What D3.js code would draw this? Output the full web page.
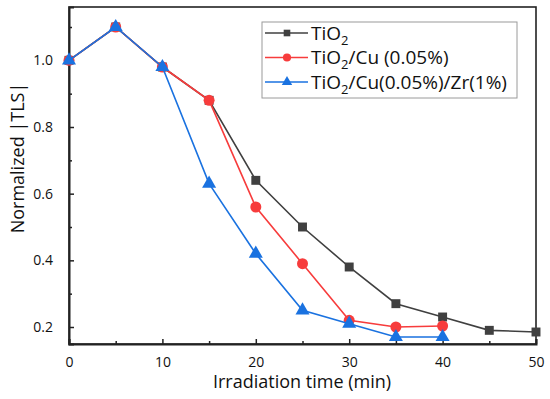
<!DOCTYPE html>
<html>
<head>
<meta charset="utf-8">
<script src="https://cdn.jsdelivr.net/npm/d3@7"></script>
<style>
  body { margin: 0; background: #fff; }
  svg text { font-family: "Open Sans", "Noto Sans", sans-serif; fill: #111; }
</style>
</head>
<body>
<svg id="chart" width="550" height="399"></svg>
<script>
// data
const timeTiO2 = [0, 5, 10, 15, 20, 25, 30, 35, 40, 45, 50];
const tio2 = [1.0, 1.10, 0.98, 0.88, 0.64, 0.50, 0.38, 0.27, 0.23, 0.19, 0.185];
const timeCu = [0, 5, 10, 15, 20, 25, 30, 35, 40];
const tio2Cu = [1.0, 1.10, 0.98, 0.88, 0.56, 0.39, 0.22, 0.20, 0.203];
const timeZr = [0, 5, 10, 15, 20, 25, 30, 35, 40];
const tio2CuZr = [1.0, 1.10, 0.98, 0.63, 0.42, 0.25, 0.21, 0.17, 0.17];
const xTicks = [0, 10, 20, 30, 40, 50];
const yTicks = [0.2, 0.4, 0.6, 0.8, 1.0];

const series = [
  {name: ["TiO", "2", ""], x: timeTiO2, y: tio2, color: "#404040", shape: d3.symbolSquare, size: 80},
  {name: ["TiO", "2", "/Cu (0.05%)"], x: timeCu, y: tio2Cu, color: "#f73c3c", shape: d3.symbolCircle, size: 95},
  {name: ["TiO", "2", "/Cu(0.05%)/Zr(1%)"], x: timeZr, y: tio2CuZr, color: "#1a72e0", shape: d3.symbolTriangle, size: 85}
];

const svg = d3.select("#chart");
const mLeft = 69, mRight = 536, mTop = 7, mBottom = 344;

const x = d3.scaleLinear().domain([0, 50]).range([mLeft, mRight]);
const y = d3.scaleLinear().domain([0.149, 1.16]).range([mBottom, mTop]);

// frame
svg.append("rect")
  .attr("x", mLeft).attr("y", mTop)
  .attr("width", mRight - mLeft).attr("height", mBottom - mTop)
  .attr("fill", "none").attr("stroke", "#222").attr("stroke-width", 1.6);

// x axis (ticks inward)
const xAxis = d3.axisBottom(x).tickValues(xTicks).tickSize(-5).tickPadding(13).tickFormat(d3.format("d"));
const gx = svg.append("g").attr("transform", `translate(0,${mBottom})`).call(xAxis);
gx.select(".domain").attr("stroke", "#222").attr("stroke-width", 2);
gx.selectAll(".tick line").attr("stroke", "#222").attr("stroke-width", 1.5);
gx.selectAll("text").style("font-size", "14px").attr("fill", "#111");
svg.append("g").attr("transform", `translate(0,${mBottom})`)
  .call(d3.axisBottom(x).tickValues([5, 15, 25, 35, 45]).tickSize(-3).tickFormat(""))
  .call(g => g.select(".domain").remove())
  .selectAll("line").attr("stroke", "#222").attr("stroke-width", 1.5);

// y axis (ticks inward)
const yAxis = d3.axisLeft(y).tickValues(yTicks).tickSize(-5).tickPadding(16).tickFormat(d3.format(".1f"));
const gy = svg.append("g").attr("transform", `translate(${mLeft},0)`).call(yAxis);
gy.select(".domain").attr("stroke", "#222").attr("stroke-width", 2);
gy.selectAll(".tick line").attr("stroke", "#222").attr("stroke-width", 1.5);
gy.selectAll("text").style("font-size", "14px").attr("fill", "#111");
svg.append("g").attr("transform", `translate(${mLeft},0)`)
  .call(d3.axisLeft(y).tickValues([0.3, 0.5, 0.7, 0.9, 1.1]).tickSize(-3).tickFormat(""))
  .call(g => g.select(".domain").remove())
  .selectAll("line").attr("stroke", "#222").attr("stroke-width", 1.5);

// axis titles
svg.append("text")
  .attr("x", 302).attr("y", 388)
  .attr("text-anchor", "middle").style("font-size", "18px")
  .text("Irradiation time (min)");
svg.append("text")
  .attr("transform", `translate(24,158) rotate(-90)`)
  .attr("text-anchor", "middle").style("font-size", "18px")
  .text("Normalized |TLS|");

// series
const line = d3.line();
series.forEach(s => {
  const pts = s.x.map((t, i) => [x(t), y(s.y[i])]);
  svg.append("path")
    .attr("d", line(pts))
    .attr("fill", "none").attr("stroke", s.color).attr("stroke-width", 1.6);
  svg.append("g").selectAll("path")
    .data(pts).join("path")
    .attr("transform", d => `translate(${d[0]},${d[1]})`)
    .attr("d", d3.symbol(s.shape, s.size))
    .attr("fill", s.color);
});

// legend
const lg = svg.append("g");
lg.append("rect")
  .attr("x", 262).attr("y", 22).attr("width", 255).attr("height", 76)
  .attr("fill", "#fff").attr("stroke", "#9a9a9a").attr("stroke-width", 1);
series.forEach((s, i) => {
  const ly = 33 + i * 24.5;
  lg.append("line")
    .attr("x1", 265).attr("x2", 308).attr("y1", ly).attr("y2", ly)
    .attr("stroke", s.color).attr("stroke-width", 1.6);
  lg.append("path")
    .attr("transform", `translate(287,${ly})`)
    .attr("d", d3.symbol(s.shape, s.size * 0.55))
    .attr("fill", s.color);
  const t = lg.append("text")
    .attr("x", 311).attr("y", ly + 6.5)
    .style("font-size", "19px");
  t.append("tspan").text(s.name[0]);
  t.append("tspan").attr("dy", 5).style("font-size", "13px").text(s.name[1]);
  t.append("tspan").attr("dy", -5).text(s.name[2]);
});
</script>
</body>
</html>
